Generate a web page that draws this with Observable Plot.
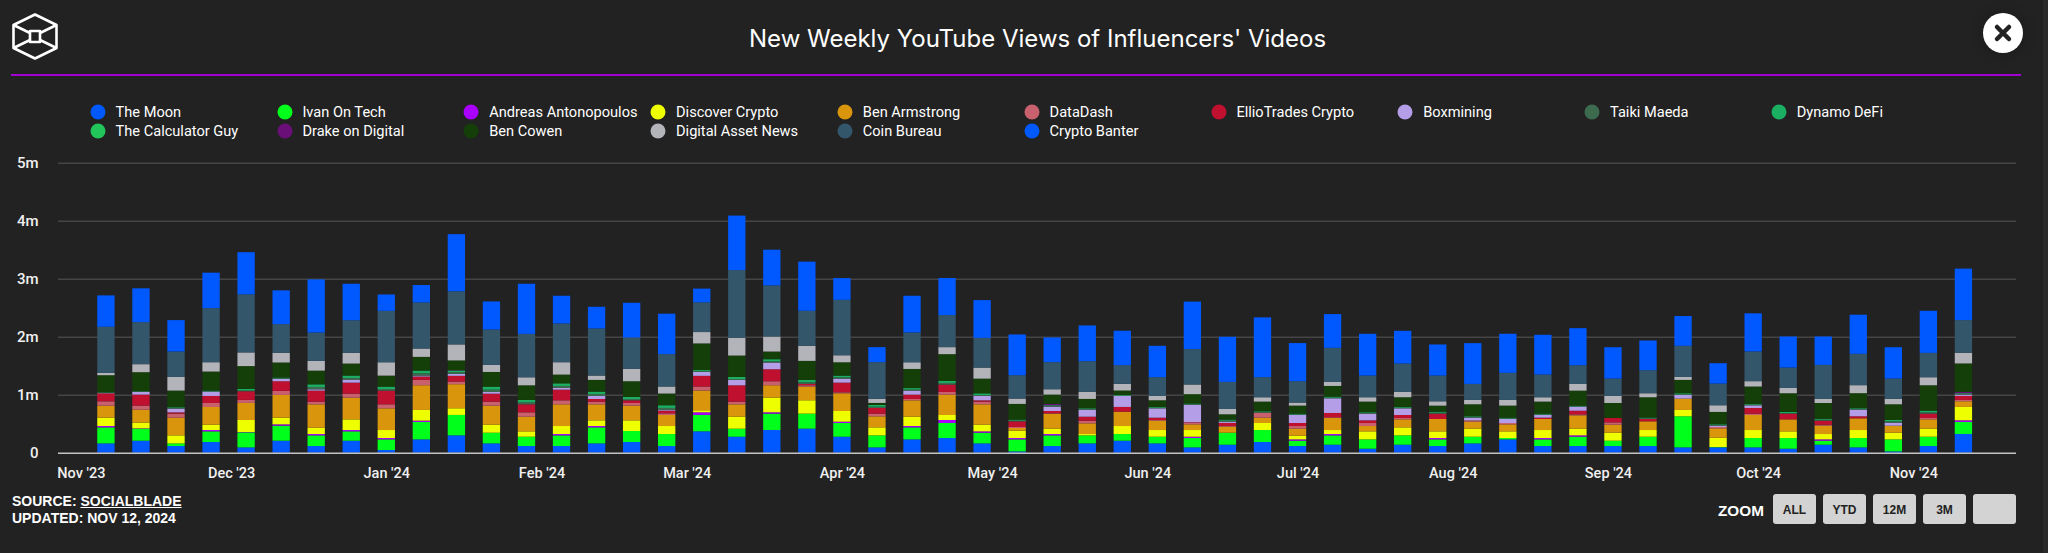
<!DOCTYPE html>
<html><head><meta charset="utf-8">
<script src="https://cdn.jsdelivr.net/npm/d3@7"></script>
<script src="https://cdn.jsdelivr.net/npm/@observablehq/plot@0.6"></script>
<style>
html,body{margin:0;padding:0;background:#222222;width:2048px;height:553px;overflow:hidden}
#page{position:relative;width:2048px;height:553px;color:#fff}
#page>div,#page>svg{position:absolute}
.t{white-space:nowrap;line-height:1}
.leg{font:400 14.6px Roboto,sans-serif;color:#fff;transform:translateY(-50%)}
.dot{width:15px;height:15px;border-radius:50%;transform:translate(-50%,-50%)}
.btn{width:43px;height:30px;background:#d3d3d3;border-radius:3px;color:#222;font:bold 12px "Liberation Sans",Arial,sans-serif;text-align:center;line-height:33px}
#chart svg{display:block;background:transparent}
</style></head><body>
<div id="page"></div>
<script>
const titleText = "New Weekly YouTube Views of Influencers' Videos";
const sourceLabel = "SOURCE: ", sourceName = "SOCIALBLADE", updatedText = "UPDATED: NOV 12, 2024";
const zoomLabels = ["ALL","YTD","12M","3M",""];
const firstWeek = "2023-11-06";
const weekCount = 54;
const yTickValues = [0,1e6,2e6,3e6,4e6,5e6];
const yTickLabels = ["0","1m","2m","3m","4m","5m"];
const monthTicks = ["2023-11-01","2023-12-01","2024-01-01","2024-02-01","2024-03-01","2024-04-01","2024-05-01","2024-06-01","2024-07-01","2024-08-01","2024-09-01","2024-10-01","2024-11-01"];
const monthLabels = ["Nov '23","Dec '23","Jan '24","Feb '24","Mar '24","Apr '24","May '24","Jun '24","Jul '24","Aug '24","Sep '24","Oct '24","Nov '24"];

// weekly views, thousands
const theMoon = [161,207,115,184,92,207,115,207,46,230,300,161,115,115,161,184,115,369,276,392,415,276,92,230,253,161,23,115,161,207,161,92,138,184,115,138,69,138,115,161,230,115,115,115,115,92,92,92,69,138,92,23,115,323];
const ivanOnTech = [276,207,46,184,259,259,184,161,184,300,351,184,161,184,276,190,207,282,138,282,259,236,207,207,259,184,207,184,138,115,115,161,207,207,92,161,161,161,115,115,23,115,161,92,161,536,6,161,184,69,161,207,161,207];
const andreas = [23,6,0,23,6,23,23,23,23,23,0,0,0,23,23,0,0,46,0,23,0,23,0,23,52,23,23,23,0,0,0,23,0,0,23,23,0,0,23,0,0,23,23,0,0,0,0,0,0,23,0,0,0,29];
const discoverCrypto = [144,98,138,92,207,115,109,184,138,184,115,138,92,138,98,184,138,35,207,253,230,184,138,161,86,115,127,92,23,138,115,115,0,121,63,69,138,138,115,138,115,138,115,138,115,109,161,138,115,92,138,115,138,230];
const benArmstrong = [207,225,305,305,294,392,403,374,374,426,415,328,253,374,276,253,190,340,213,213,236,305,190,282,351,351,46,259,184,248,161,98,104,92,121,207,92,138,213,121,121,190,230,138,150,196,161,259,207,144,202,121,161,98];
const dataDash = [75,69,69,69,52,69,46,69,69,92,46,69,75,69,46,46,29,69,46,69,23,17,46,23,46,46,17,6,46,0,12,23,12,86,46,12,52,23,0,23,23,0,17,40,0,0,23,23,0,17,0,0,23,23];
const ellioTrades = [138,190,23,121,150,167,190,190,236,58,98,138,138,184,46,46,46,184,282,207,23,167,98,75,127,23,98,40,69,81,40,12,52,0,52,75,46,52,92,0,0,23,63,75,40,0,0,98,98,69,35,0,75,69];
const boxmining = [6,46,63,75,0,40,23,52,0,17,35,29,0,29,52,0,12,69,92,115,0,69,0,69,0,75,0,75,121,190,161,300,23,0,138,253,115,115,0,46,69,46,69,0,0,63,23,46,0,0,115,52,0,23];
const taikiMaeda = [6,6,12,6,12,12,40,29,29,40,29,40,35,35,35,23,35,12,17,23,29,23,23,17,29,17,12,12,12,6,12,12,17,12,12,12,12,12,17,12,12,12,6,0,12,12,12,12,12,17,12,23,23,12];
const dynamoDefi = [6,6,12,12,29,12,46,35,40,46,29,46,40,40,40,35,46,17,35,35,40,29,29,23,35,23,17,12,12,12,12,12,17,12,12,17,12,12,17,12,12,12,12,0,12,17,12,12,17,17,12,23,29,12];
const calculatorGuy = [0,0,0,0,0,0,0,6,0,0,0,6,0,6,0,0,0,6,0,0,0,0,0,6,0,6,0,0,0,0,0,0,0,0,0,0,0,0,0,0,0,0,0,0,0,0,0,0,0,0,0,0,0,0];
const drakeOnDigital = [0,0,0,0,0,0,0,0,0,0,6,0,0,0,0,0,0,0,0,0,0,0,0,0,0,0,0,23,0,0,0,0,0,0,0,0,0,0,0,0,0,0,0,0,0,0,0,0,0,0,0,0,0,23];
const benCowen = [294,328,288,328,392,259,236,207,190,236,167,253,253,150,202,271,202,455,369,132,328,230,35,328,461,253,271,161,161,75,115,161,92,167,138,184,184,167,104,207,207,207,259,259,351,230,213,300,323,271,259,271,438,490];
const digitalAssetNews = [40,138,236,161,236,167,167,184,230,144,276,121,138,213,75,213,121,196,305,259,259,121,69,115,121,190,92,92,121,115,75,167,92,75,52,69,75,92,75,75,98,75,115,121,69,52,115,92,92,69,138,92,138,184];
const coinBureau = [795,726,438,933,1002,495,490,564,887,795,916,611,749,668,812,541,559,513,1169,881,605,956,634,513,553,513,403,467,530,323,323,611,467,346,369,588,374,490,444,276,467,392,323,300,397,536,374,513,351,588,541,351,420,564];
const cryptoBanter = [541,582,541,611,726,582,916,628,282,300,985,484,864,478,374,599,697,236,939,616,847,374,259,634,639,651,703,426,616,593,541,818,778,1031,657,582,720,564,536,703,674,685,639,541,513,513,351,657,536,490,674,541,726,887];

const seriesNames = ["The Moon","Ivan On Tech","Andreas Antonopoulos","Discover Crypto","Ben Armstrong","DataDash","EllioTrades Crypto","Boxmining","Taiki Maeda","Dynamo DeFi","The Calculator Guy","Drake on Digital","Ben Cowen","Digital Asset News","Coin Bureau","Crypto Banter"];
const seriesValues = [theMoon,ivanOnTech,andreas,discoverCrypto,benArmstrong,dataDash,ellioTrades,boxmining,taikiMaeda,dynamoDefi,calculatorGuy,drakeOnDigital,benCowen,digitalAssetNews,coinBureau,cryptoBanter];
const seriesColors = ["#0059ff","#00ff1a","#aa00ff","#eeff00","#d9960c","#c9606e","#bf1030","#b49ee8","#3c6b50","#1aaf63","#22c55a","#6a0f78","#143f08","#b3b3ba","#33566b","#0059ff"];

const DAY = 864e5;
const utc = s => new Date(s + "T00:00:00Z");
const weeks = d3.range(weekCount).map(i => new Date(+utc(firstWeek) + i * 7 * DAY));
const rows = seriesNames.flatMap((name, s) => weeks.map((date, i) => ({name, date, value: seriesValues[s][i] * 1000})));
const nov1 = +utc(monthTicks[0]);
const halfBar = 1.73 * DAY;

const chart = Plot.plot({
  width: 2048, height: 553,
  marginLeft: 58, marginRight: 32, marginTop: 162.7, marginBottom: 100.3,
  style: {background: "transparent", color: "#fff"},
  x: {type: "utc", domain: [new Date(nov1 - 4.57 * DAY), new Date(nov1 + 386.5 * DAY)]},
  y: {domain: [0, 5e6]},
  color: {domain: seriesNames, range: seriesColors},
  marks: [
    Plot.ruleY(yTickValues.slice(1), {stroke: "#454545", strokeWidth: 1.6}),
    Plot.rectY(rows, {
      x1: d => new Date(+d.date - halfBar), x2: d => new Date(+d.date + halfBar),
      y: "value", fill: "name", order: seriesNames
    }),
    Plot.ruleY([0], {stroke: "#c4c4c4", strokeWidth: 1.6}),
    Plot.axisY({tickSize: 0, tickPadding: 20, tickFormat: (d) => yTickLabels[yTickValues.indexOf(d)], ticks: yTickValues, label: null,
      fontSize: 15, fontWeight: 500, fontFamily: "Roboto, sans-serif", fill: "#f0f0f0"}),
    Plot.axisX({tickSize: 0, tickPadding: 15, ticks: monthTicks.map(utc), label: null,
      tickFormat: d => monthLabels[monthTicks.findIndex(m => +utc(m) === +d)],
      fontSize: 14.5, fontWeight: 500, fontFamily: "Roboto, sans-serif", fill: "#f0f0f0"})
  ]
});
const page = document.getElementById("page");
const chartBox = document.createElement("div");
chartBox.id = "chart"; chartBox.style.cssText = "left:0;top:0";
chartBox.append(chart); page.append(chartBox);

function add(cls, css, text) {
  const el = document.createElement("div");
  el.className = cls; el.style.cssText = css;
  if (text != null) el.textContent = text;
  page.append(el); return el;
}
// header
add("t", "left:749px;top:24px;font:400 24px Inter,sans-serif;color:#fff", titleText);
add("", "left:11px;top:73.5px;width:2010px;height:2px;background:#a000d0");
const logo = document.createElement("div");
logo.style.cssText = "left:12px;top:13px";
logo.innerHTML = `<svg width="46" height="47" viewBox="0 0 46 47" fill="none" stroke="#fff" stroke-width="2.6" stroke-linejoin="round">
<path d="M23 1.5 L44.5 12 V35 L23 45.5 L1.5 35 V12 Z"/><path d="M1.5 12 L18 20 M44.5 12 L28 20 M1.5 35 L18 27 M44.5 35 L28 27 M23 1.5 L23 1.5"/>
<path d="M18 18 h10 v11 h-10 Z"/></svg>`;
page.append(logo);
add("", "left:1983px;top:13px;width:40px;height:40px;border-radius:50%;background:#fff;box-shadow:0 0 14px rgba(0,0,0,.25)");
const cross = document.createElement("div");
cross.style.cssText = "left:1983px;top:13px";
cross.innerHTML = `<svg width="40" height="40"><path d="M14 14 L26 26 M26 14 L14 26" stroke="#222" stroke-width="4.5" stroke-linecap="round"/></svg>`;
page.append(cross);
// legend
seriesNames.forEach((name, i) => {
  const col = i < 10 ? i : i - 10, y = i < 10 ? 112 : 130.7;
  const dx = 97.8 + col * 186.8;
  add("dot", `left:${dx}px;top:${y}px;background:${seriesColors[i]}`);
  add("t leg", `left:${dx + 17.8}px;top:${y}px`, name);
});
// footer
const src = add("t", "left:12px;top:493px;font:bold 14px 'Liberation Sans',Arial,sans-serif;color:#fff", sourceLabel);
const a = document.createElement("span"); a.textContent = sourceName; a.style.textDecoration = "underline"; src.append(a);
add("t", "left:12px;top:509.5px;font:bold 14px 'Liberation Sans',Arial,sans-serif;color:#fff", updatedText);
add("t", "left:1718px;top:501.5px;font:bold 15.3px 'Liberation Sans',Arial,sans-serif;color:#fff", "ZOOM");
zoomLabels.forEach((l, i) => add("btn", `left:${1773 + i * 50}px;top:494px`, l));
add("", "left:2043px;top:0;width:5px;height:553px;background:#2a2a2a");
</script>
</body></html>
